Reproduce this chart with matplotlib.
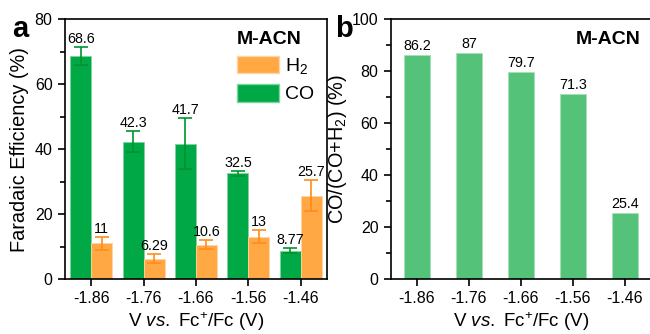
import matplotlib.pyplot as plt
import numpy as np
from matplotlib.patches import Patch
from matplotlib.ticker import MultipleLocator

plt.rcParams['font.family'] = ['Liberation Sans', 'DejaVu Sans']
plt.rcParams['mathtext.fontset'] = 'custom'
plt.rcParams['mathtext.rm'] = 'Liberation Sans'
plt.rcParams['mathtext.it'] = 'Liberation Sans:italic'
plt.rcParams['mathtext.bf'] = 'Liberation Sans:bold'

potentials = ['-1.86', '-1.76', '-1.66', '-1.56', '-1.46']
fe_co = [68.6, 42.3, 41.7, 32.5, 8.77]
fe_co_err = [2.7, 3.3, 7.9, 0.7, 0.7]
fe_h2 = [11, 6.29, 10.6, 13, 25.7]
fe_h2_err = [2.0, 1.3, 1.5, 2.0, 4.7]
co_ratio = [86.2, 87, 79.7, 71.3, 25.4]

green = '#00A846'
green_err = '#00932F'
orange = '#FFA844'
orange_err = '#FF8C1A'
light_green = '#55C27A'

fig = plt.figure(figsize=(6.5, 3.34), dpi=100)
ax1 = fig.add_axes([0.1, 0.1647, 0.403, 0.778])
ax2 = fig.add_axes([0.6015, 0.1647, 0.4, 0.778])

x = np.arange(len(potentials))
w = 0.4

ax1.bar(x - w / 2, fe_co, w, color=green, edgecolor='#7fd39f', linewidth=0.6,
        yerr=fe_co_err, error_kw=dict(ecolor=green_err, capsize=5, elinewidth=1.2, capthick=1.2))
ax1.bar(x + w / 2, fe_h2, w, color=orange, edgecolor='#ffd3a3', linewidth=0.6,
        yerr=fe_h2_err, error_kw=dict(ecolor=orange_err, capsize=5, elinewidth=1.2, capthick=1.2))

for i in range(len(x)):
    ax1.text(x[i] - w / 2, fe_co[i] + fe_co_err[i] + 0.3, '%g' % fe_co[i],
             ha='center', va='bottom', fontsize=10.3)
    ax1.text(x[i] + w / 2, fe_h2[i] + fe_h2_err[i] + 0.3, '%g' % fe_h2[i],
             ha='center', va='bottom', fontsize=10.3)

ax1.set_xlim(-0.5, 4.5)
ax1.set_ylim(0, 80)
ax1.set_xticks(x)
ax1.set_xticklabels(potentials)
ax1.yaxis.set_major_locator(MultipleLocator(20))
ax1.yaxis.set_minor_locator(MultipleLocator(10))
ax1.set_ylabel('Faradaic Efficiency (%)', fontsize=14.3, labelpad=4)
ax1.set_xlabel(r'V $\mathit{vs.}$ Fc$^{+}$/Fc (V)', fontsize=13.5, labelpad=3)

handles = [Patch(facecolor=orange, edgecolor='#ffd3a3', label='H$_2$'),
           Patch(facecolor=green, edgecolor='#7fd39f', label='CO')]
leg = ax1.legend(handles=handles, loc='upper left', bbox_to_anchor=(0.656, 0.955),
                 frameon=False, fontsize=14, title='M-ACN', alignment='left',
                 title_fontproperties={'weight': 'bold', 'size': 14},
                 handlelength=2.16, handleheight=1.03, handletextpad=0.3,
                 labelspacing=0.4, borderpad=0, borderaxespad=0)

ax2.bar(x, co_ratio, 0.5, color=light_green, edgecolor='#a6e0b8', linewidth=0.6)
for i in range(len(x)):
    ax2.text(x[i], co_ratio[i] + 0.6, '%g' % co_ratio[i], ha='center', va='bottom', fontsize=10.3)

ax2.set_xlim(-0.5, 4.5)
ax2.set_ylim(0, 100)
ax2.set_xticks(x)
ax2.set_xticklabels(potentials)
ax2.yaxis.set_major_locator(MultipleLocator(20))
ax2.yaxis.set_minor_locator(MultipleLocator(10))
ax2.set_ylabel('CO/(CO+H$_2$) (%)', fontsize=14.3, labelpad=2)
ax2.set_xlabel(r'V $\mathit{vs.}$ Fc$^{+}$/Fc (V)', fontsize=13.5, labelpad=3)
ax2.text(0.837, 0.923, 'M-ACN', transform=ax2.transAxes, ha='center', va='center',
         fontsize=14, fontweight='bold')

for ax in (ax1, ax2):
    for s in ax.spines.values():
        s.set_linewidth(1.2)
    ax.tick_params(axis='both', which='major', direction='out', length=5, width=1.2,
                   labelsize=11.5, pad=4)
    ax.tick_params(axis='y', which='minor', direction='out', length=3.5, width=1.2)

fig.text(0.018, 0.889, 'a', fontsize=21, fontweight='bold', va='baseline')
fig.text(0.515, 0.889, 'b', fontsize=21, fontweight='bold', va='baseline')

fig.savefig('out.png', dpi=100)
